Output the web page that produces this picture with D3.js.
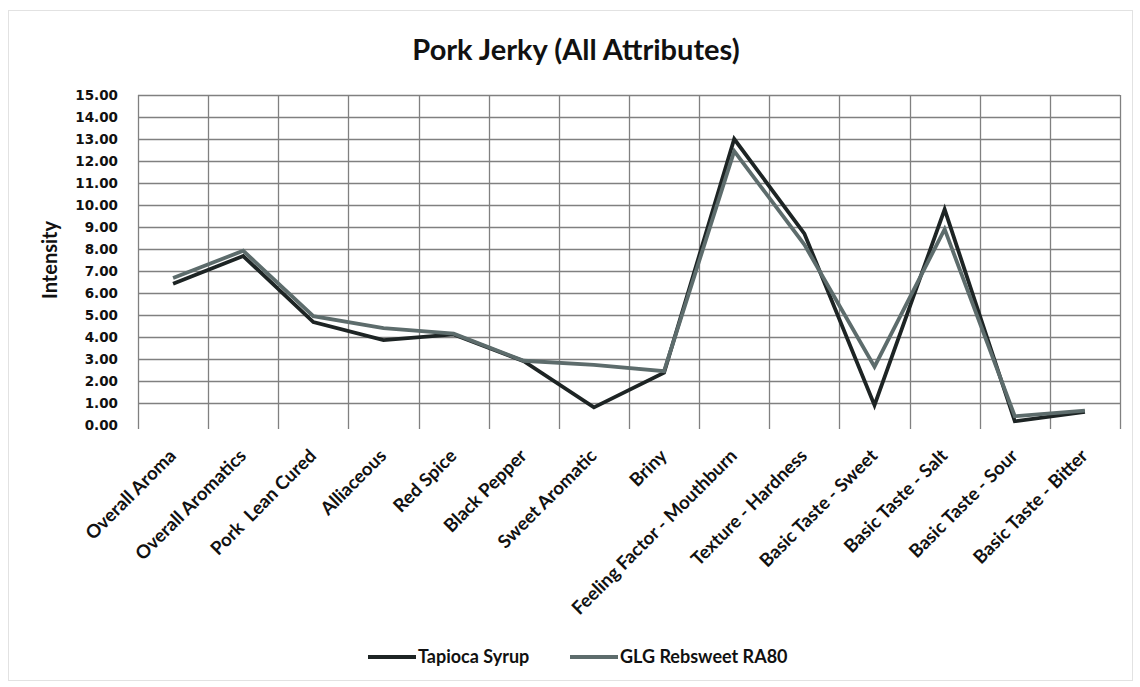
<!DOCTYPE html>
<html>
<head>
<meta charset="utf-8">
<script src="https://cdn.jsdelivr.net/npm/d3@7"></script>
<style>
  body { margin: 0; background: #fff; }
  text { font-family: Lato, "Open Sans", sans-serif; font-weight: bold; fill: #111; }
</style>
</head>
<body>
<div id="chart"></div>
<script>
// Data
const categories = ["Overall Aroma", "Overall Aromatics", "Pork  Lean Cured", "Alliaceous", "Red Spice",
  "Black Pepper", "Sweet Aromatic", "Briny", "Feeling Factor - Mouthburn", "Texture - Hardness",
  "Basic Taste - Sweet", "Basic Taste - Salt", "Basic Taste - Sour", "Basic Taste - Bitter"];
const tapioca = [6.42, 7.68, 4.68, 3.86, 4.12, 2.9, 0.8, 2.38, 13.0, 8.7, 0.9, 9.8, 0.17, 0.6];
const rebsweet = [6.68, 7.92, 4.95, 4.4, 4.15, 2.92, 2.73, 2.45, 12.45, 8.2, 2.65, 8.9, 0.4, 0.65];
const yTicks = d3.range(0, 16);
const seriesNames = ["Tapioca Syrup", "GLG Rebsweet RA80"];

const width = 1140;
const height = 687;
const svg = d3.select("#chart")
  .append("svg")
  .attr("width", width)
  .attr("height", height);

// outer frame
svg.append("rect")
  .attr("x", 8.5).attr("y", 10.5)
  .attr("width", 1124).attr("height", 670)
  .attr("fill", "#fff")
  .attr("stroke", "#e2e2e2");

// Scales
const x = d3.scaleBand()
  .domain(categories)
  .range([138, 1120]);
const y = d3.scaleLinear()
  .domain([0, 15])
  .range([425, 95]);

// Title
svg.append("text")
  .attr("x", 576)
  .attr("y", 60)
  .attr("text-anchor", "middle")
  .style("font-size", "29px")
  .text("Pork Jerky (All Attributes)");

// Horizontal grid
svg.append("g")
  .selectAll("line")
  .data(yTicks.filter(d => d > 0))
  .join("line")
  .attr("x1", 138).attr("x2", 1120)
  .attr("y1", d => Math.round(y(d)) + 0.5)
  .attr("y2", d => Math.round(y(d)) + 0.5)
  .attr("stroke", "#808080")
  .attr("stroke-width", 1.3);

// Vertical grid (band edges)
const edges = categories.map(c => x(c)).concat([x.range()[1]]);
svg.append("g")
  .selectAll("line")
  .data(edges)
  .join("line")
  .attr("x1", d => Math.round(d) + 0.5).attr("x2", d => Math.round(d) + 0.5)
  .attr("y1", 95).attr("y2", 429)
  .attr("stroke", "#808080")
  .attr("stroke-width", 1.3);

// Y axis labels
const yAxis = svg.append("g")
  .attr("transform", "translate(138, 0)")
  .call(d3.axisLeft(y).tickValues(yTicks).tickFormat(d3.format(".2f")).tickSize(0).tickPadding(20));
yAxis.select(".domain").remove();
yAxis.selectAll("text")
  .style("font-size", "13.5px")
  .style("font-family", "'DejaVu Sans', sans-serif")
  .style("font-weight", "bold")
  .attr("fill", "#111");

svg.append("text")
  .attr("transform", "rotate(-90)")
  .attr("x", -260)
  .attr("y", 57)
  .attr("text-anchor", "middle")
  .style("font-size", "20px")
  .text("Intensity");

// X labels, rotated
svg.append("g")
  .selectAll("text")
  .data(categories)
  .join("text")
  .attr("transform", d => `translate(${x(d) + x.bandwidth() / 2 + 4}, 457) rotate(-45)`)
  .attr("text-anchor", "end")
  .style("font-size", "18.5px")
  .style("white-space", "pre")
  .text(d => d);

// Lines
const line = d3.line()
  .x((d, i) => x(categories[i]) + x.bandwidth() / 2)
  .y(d => y(d));

const colors = ["#1d2424", "#5d6c6c"];
[tapioca, rebsweet].forEach((vals, i) => {
  svg.append("path")
    .datum(vals)
    .attr("d", line)
    .attr("fill", "none")
    .attr("stroke", colors[i])
    .attr("stroke-width", 3.8)
    .attr("stroke-linejoin", "miter");
});

// Legend
const legendX = [368, 570];
const legend = svg.append("g");
seriesNames.forEach((name, i) => {
  legend.append("line")
    .attr("x1", legendX[i]).attr("x2", legendX[i] + 48)
    .attr("y1", 657).attr("y2", 657)
    .attr("stroke", colors[i])
    .attr("stroke-width", 3.8);
  legend.append("text")
    .attr("x", legendX[i] + 50)
    .attr("y", 663)
    .style("font-size", "18px")
    .text(name);
});
</script>
</body>
</html>
